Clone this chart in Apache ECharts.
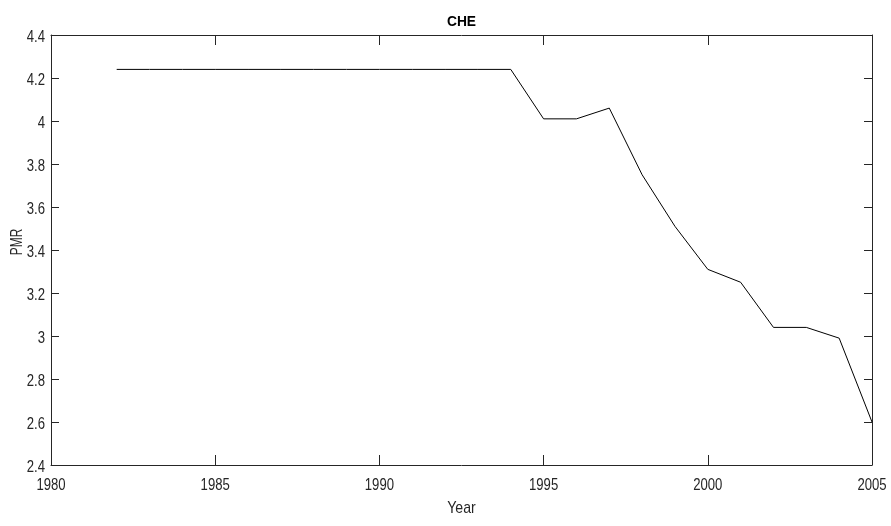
<!DOCTYPE html>
<html>
<head>
<meta charset="utf-8">
<script src="https://cdn.jsdelivr.net/npm/echarts@6/dist/echarts.min.js"></script>
<style>
  html, body { margin: 0; padding: 0; background: #fff; }
  #chart { width: 891px; height: 526px; }
</style>
</head>
<body>
<div id="chart"></div>
<script>
// PMR indicator for CHE, by year
const years = [1982, 1983, 1984, 1985, 1986, 1987, 1988, 1989, 1990, 1991, 1992, 1993, 1994,
               1995, 1996, 1997, 1998, 1999, 2000, 2001, 2002, 2003, 2004, 2005];
const pmr = [4.24, 4.24, 4.24, 4.24, 4.24, 4.24, 4.24, 4.24, 4.24, 4.24, 4.24, 4.24, 4.24,
             4.01, 4.01, 4.06, 3.75, 3.51, 3.31, 3.25, 3.04, 3.04, 2.99, 2.60];
const xTicks = [1980, 1985, 1990, 1995, 2000, 2005];
const yTicks = [2.4, 2.6, 2.8, 3, 3.2, 3.4, 3.6, 3.8, 4, 4.2, 4.4];
const titleText = 'CHE';
const xName = 'Year';
const yName = 'PMR';

const axisColor = '#262626';
const font = 'Liberation Sans, Arial, sans-serif';

const chart = echarts.init(document.getElementById('chart'), null, { renderer: 'canvas' });

function frameAxis(extra, tickLen) {
  return Object.assign({
    type: 'value',
    axisLine: { show: true, onZero: false, lineStyle: { color: axisColor, width: 1 } },
    axisTick: { show: true, inside: true, length: tickLen, lineStyle: { color: axisColor, width: 1 } },
    axisLabel: { show: false },
    splitLine: { show: false }
  }, extra);
}

const xRange = { min: xTicks[0], max: xTicks[xTicks.length - 1], interval: 5 };
const yRange = { min: yTicks[0], max: yTicks[yTicks.length - 1], interval: 0.2 };

chart.setOption({
  animation: false,
  backgroundColor: '#ffffff',
  grid: { left: 51, top: 35, right: 19, bottom: 61, containLabel: false },
  xAxis: [
    frameAxis(Object.assign({ position: 'bottom' }, xRange), 10),
    frameAxis(Object.assign({ position: 'top' }, xRange), 10)
  ],
  yAxis: [
    frameAxis(Object.assign({ position: 'left' }, yRange), 8),
    frameAxis(Object.assign({ position: 'right' }, yRange), 8)
  ],
  series: [{
    type: 'line',
    xAxisIndex: 0,
    yAxisIndex: 0,
    data: years.map((y, i) => [y, pmr[i]]),
    showSymbol: false,
    symbol: 'none',
    lineStyle: { color: '#000000', width: 1 },
    clip: true
  }]
});

// Narrow text labels placed from the axis scales
function label(text, x, y, opts) {
  return {
    type: 'text',
    x: x,
    y: y,
    rotation: opts.rotation || 0,
    scaleX: opts.scaleX || 1,
    silent: true,
    style: {
      text: text,
      x: 0,
      y: 0,
      fontFamily: font,
      fontSize: opts.fontSize,
      fontWeight: opts.fontWeight || 'normal',
      fill: opts.color || axisColor,
      align: opts.align || 'center',
      verticalAlign: 'middle'
    }
  };
}

const graphics = [];
const axisBottom = chart.convertToPixel({ yAxisIndex: 0 }, yTicks[0]);
const axisLeft = chart.convertToPixel({ xAxisIndex: 0 }, xTicks[0]);
const axisRight = chart.convertToPixel({ xAxisIndex: 0 }, xTicks[xTicks.length - 1]);
const axisTop = chart.convertToPixel({ yAxisIndex: 0 }, yTicks[yTicks.length - 1]);

xTicks.forEach(v => {
  const px = chart.convertToPixel({ xAxisIndex: 0 }, v);
  graphics.push(label(String(v), px, axisBottom + 21, { fontSize: 16, scaleX: 0.82 }));
});
yTicks.forEach(v => {
  const py = chart.convertToPixel({ yAxisIndex: 0 }, v);
  graphics.push(label(String(parseFloat(v.toFixed(1))), axisLeft - 6, py + 3,
    { fontSize: 16, scaleX: 0.82, align: 'right' }));
});

const midX = (axisLeft + axisRight) / 2;
graphics.push(label(xName, midX, axisBottom + 43, { fontSize: 17, scaleX: 0.83 }));
graphics.push(label(yName, 17, 242, { fontSize: 17, scaleX: 0.7, rotation: Math.PI / 2 }));
graphics.push(label(titleText, midX, axisTop - 13,
  { fontSize: 15, scaleX: 0.92, fontWeight: 'bold', color: '#000000' }));

chart.setOption({ graphic: graphics });
</script>
</body>
</html>
